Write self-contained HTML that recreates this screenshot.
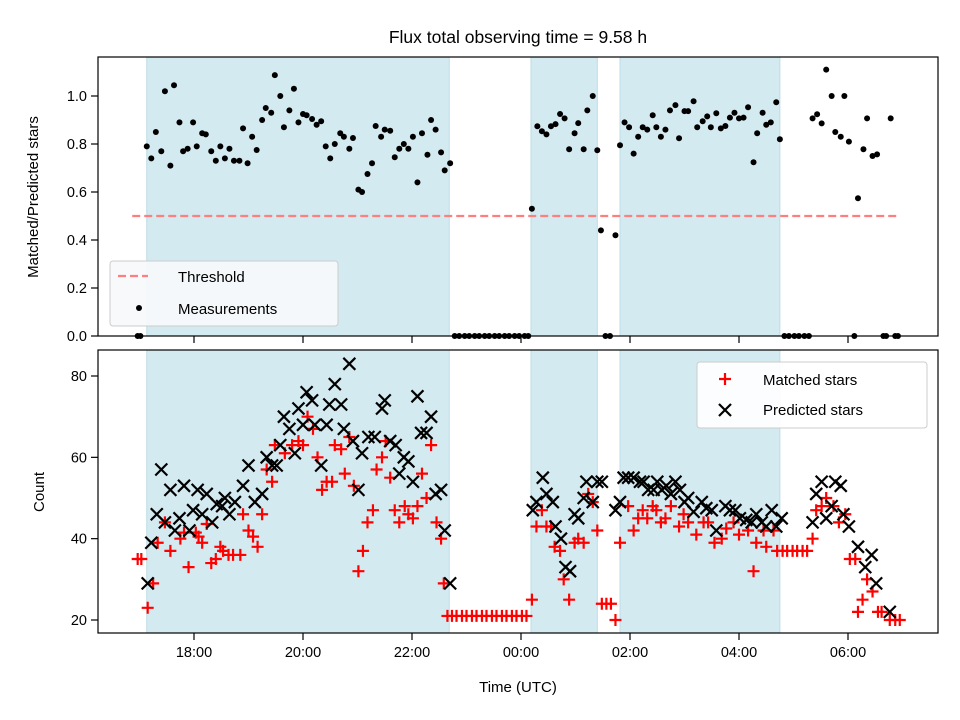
<!DOCTYPE html>
<html><head><meta charset="utf-8"><style>
body{margin:0;background:#fff}
svg{display:block;font-family:"Liberation Sans","DejaVu Sans",sans-serif}
</style></head><body>
<svg id="chart" width="960" height="720" viewBox="0 0 960 720" xmlns="http://www.w3.org/2000/svg">
<text x="518" y="43" font-size="17.5" text-anchor="middle">Flux total observing time = 9.58 h</text>
<g id="topG"></g><g id="botG"></g>
</svg>
<script>
// time in minutes since 17:00 UTC
const shadeStart=[8,431,529];
const shadeEnd=[341,504,705];
const threshold=0.5;
const ratioT=[-2,1,8,13,18,24,28,34,38,44,48,53,59,63,69,73,79,84,89,94,99,104,110,114,119,124,129,135,139,145,149,155,159,165,170,175,180,184,190,195,200,205,210,215,221,225,231,235,241,245,251,256,260,266,270,276,281,286,291,296,301,306,311,317,321,326,332,336,342,
347,352,358,363,369,374,380,385,391,396,402,407,413,418,424,428,
432,438,443,448,453,458,463,468,473,479,483,489,493,499,504,508,513,518,524,
529,534,539,544,549,554,559,565,569,574,579,584,590,594,600,604,610,614,620,625,629,635,640,645,650,655,660,665,670,676,680,686,690,695,701,705,
710,715,721,726,732,737,741,746,751,756,762,766,772,776,781,787,791,797,801,807,812,819,822,827,832,835];
const ratioV=[0,0,0.79,0.74,0.85,0.77,1.02,0.71,1.045,0.89,0.77,0.78,0.89,0.79,0.845,0.84,0.77,0.73,0.79,0.74,0.78,0.73,0.73,0.865,0.72,0.83,0.775,0.90,0.95,0.93,1.087,1.0,0.87,0.94,1.03,0.89,0.925,0.92,0.904,0.88,0.895,0.79,0.74,0.80,0.845,0.83,0.78,0.825,0.61,0.60,0.675,0.72,0.875,0.83,0.86,0.855,0.745,0.78,0.80,0.78,0.83,0.64,0.845,0.755,0.90,0.86,0.765,0.69,0.72,
0,0,0,0,0,0,0,0,0,0,0,0,0,0,0,0,
0.53,0.874,0.853,0.84,0.874,0.883,0.925,0.907,0.778,0.845,0.887,0.778,0.94,1.0,0.774,0.44,0,0,0.42,
0.795,0.89,0.87,0.76,0.83,0.87,0.86,0.92,0.87,0.83,0.86,0.94,0.962,0.824,0.937,0.937,0.978,0.87,0.895,0.915,0.87,0.928,0.865,0.875,0.91,0.93,0.907,0.91,0.953,0.724,0.845,0.93,0.88,0.89,0.974,0.82,
0,0,0,0,0,0,0.907,0.924,0.886,1.11,1.0,0.85,0.83,1.0,0.81,0,0.574,0.778,0.907,0.75,0.757,0,0,0.907,0,0];
const matchT=[-2,2,9,15,20,28,34,45,49,54,62,65,69,74,79,84,89,92,98,103,111,114,120,125,130,135,140,146,149,160,168,175,180,185,191,196,201,206,212,215,222,226,231,236,241,246,251,257,261,267,271,276,281,286,292,296,301,306,311,316,321,327,332,335,
339,344,349,355,360,366,371,377,382,388,393,399,404,410,415,421,426,
432,437,443,448,453,457,463,467,473,479,483,489,494,499,504,509,514,519,524,
529,538,544,549,554,559,565,569,574,579,585,594,599,604,613,621,626,633,641,646,654,660,670,676,679,687,690,698,
702,708,713,719,724,730,735,741,745,751,756,764,770,777,782,788,791,796,801,807,813,817,826,832,837];
const matchV=[35,35,23,29,39,44,37,40,41.5,33,41.5,40.5,39,43.6,34,35,38,37,36,36,36,46,42,40.5,38,46,57,54,63,61,63,64,63,70,67,60,52,54,54,63,62,56,65,53,32,37,44,47,57,60,64,55,47,44,48,46,45,48,56,50,63,44,40,29,
21,21,21,21,21,21,21,21,21,21,21,21,21,21,21,21,21,
25,43,47,43,43,38,37,30,25,39,40,39,51,49,42,24,24,24,20,
39,48,42,45,47,45,48,47,44,45,48,43,46,44,41,44,44,39,40,42.5,44,41,42,32,39,42,38,42,
37,37,37,37,37,37,37,40,47,48,50,48,44,46,35,35,22,25,30,27,22,22,20,20,20];
const predT=[9,13,19,24,28,34,39,44,49,55,59,64,69,74,80,85,91,94,99,105,114,120,127,135,140,146,151,155,159,165,171,175,180,184,190,193,200,206,209,215,222,225,231,235,241,245,252,259,267,270,276,282,286,291,296,301,306,310,316,321,326,332,336,342,
433,437,444,448,455,458,464,469,474,479,483,489,492,499,504,509,524,
529,533,538,544,551,555,560,566,570,575,580,585,590,595,600,604,610,619,624,630,635,645,650,656,661,668,674,679,685,690,696,701,707,
741,745,751,756,762,766,772,775,781,791,799,806,811,826];
const predV=[29,39,46,57,44,52,42,45,53,42,47,52,46,51,44,48.5,48,50,46,49,53,58,49,51,60,58,58,63,70,67,61,72,68,76,74,68,58,68,73,78,73,67,83,64,52,61,65,65,72,74,64,63,56,60,59,54,75,66,66,70,51,52,42,29,
47,49,55,51,49,43,40,33,32,46,45,50,54,49,54,54,47,
49,55,55,55,54,54,52,52,54,52,53,51,54,52,49,50,46.6,49,47.5,47,42,48,47,47,45,44.6,44,46,44,43,47,43,45,
44,51,54,45,48,54,53,46,43,38,33,36,29,22];
const xTickT=[60,180,300,420,540,660,780];
const xTickL=["18:00","20:00","22:00","00:00","02:00","04:00","06:00"];
const topTicks=[0,0.2,0.4,0.6,0.8,1.0];
const botTicks=[20,40,60,80];

const NS="http://www.w3.org/2000/svg";
const L=98,R=938,T1=57,B1=336,T2=350,B2=633;
const xs=t=>194+(t-60)/60*54.5;
const yTop=v=>336-v*240;
const yBot=v=>620-(v-20)*(244/60);
function mk(p,tag,at){const e=document.createElementNS(NS,tag);for(const k in at)e.setAttribute(k,at[k]);p.appendChild(e);return e;}
const topG=document.getElementById('topG'),botG=document.getElementById('botG');

[[topG,T1,B1],[botG,T2,B2]].forEach(([g,T,B],pi)=>{
  for(let i=0;i<shadeStart.length;i++){
    const r=mk(g,'rect',{x:xs(shadeStart[i]),y:T,width:xs(shadeEnd[i])-xs(shadeStart[i]),height:B-T,fill:'#d4eaf1',stroke:'#bcdce6','stroke-width':1});
    
    
  }
});

const th=mk(topG,'line',{x1:xs(-8),x2:xs(837),y1:yTop(threshold),y2:yTop(threshold),stroke:'#ff7f7f','stroke-width':2.2,'stroke-dasharray':'8,4'});



ratioT.forEach((t,i)=>{
  const c=mk(topG,'circle',{cx:xs(t),cy:yTop(ratioV[i]),r:3,fill:'#000'});
  
  
});
function plus(g,x,y,col){return mk(g,'path',{d:`M${x-6},${y}H${x+6}M${x},${y-6}V${y+6}`,stroke:col,'stroke-width':2.2,fill:'none'});}
function cross(g,x,y,col){return mk(g,'path',{d:`M${x-6},${y-6}L${x+6},${y+6}M${x-6},${y+6}L${x+6},${y-6}`,stroke:col,'stroke-width':2.2,fill:'none'});}
matchT.forEach((t,i)=>{
  const p=plus(botG,xs(t),yBot(matchV[i]),'#ff0000');
  
  
});
predT.forEach((t,i)=>{
  const p=cross(botG,xs(t),yBot(predV[i]),'#000');
  
  
});

[[topG,T1,B1],[botG,T2,B2]].forEach(([g,T,B],pi)=>{
  const f=mk(g,'rect',{x:L,y:T,width:R-L,height:B-T,fill:'none',stroke:'#000','stroke-width':1.2});
  
  
  xTickT.forEach((t,i)=>{
    const tk=mk(g,'line',{x1:xs(t),x2:xs(t),y1:B,y2:B+7,stroke:'#000','stroke-width':1.2});
    
    
    if(pi){const tx=mk(g,'text',{x:xs(t),y:B+24,'font-size':14.5,'text-anchor':'middle'});tx.textContent=xTickL[i];
      
      }
  });
  const ticks=pi?botTicks:topTicks, ys=pi?yBot:yTop;
  ticks.forEach(v=>{
    const tk=mk(g,'line',{x1:L-7,x2:L,y1:ys(v),y2:ys(v),stroke:'#000','stroke-width':1.2});
    
    
    const tx=mk(g,'text',{x:L-11,y:ys(v)+5,'font-size':14.5,'text-anchor':'end'});tx.textContent=pi?v:v.toFixed(1);
    
    
  });
});
let tt;
tt=mk(topG,'text',{x:0,y:0,'font-size':15,'text-anchor':'middle',transform:'translate(38,197) rotate(-90)'});tt.textContent='Matched/Predicted stars';


tt=mk(botG,'text',{x:0,y:0,'font-size':15,'text-anchor':'middle',transform:'translate(44,492) rotate(-90)'});tt.textContent='Count';


tt=mk(botG,'text',{x:518,y:692,'font-size':15,'text-anchor':'middle'});tt.textContent='Time (UTC)';



let lg=mk(topG,'g',{});


mk(lg,'rect',{x:110,y:261,width:228,height:65,rx:3,fill:'#f6f9fb','fill-opacity':0.92,stroke:'#cccccc'});
mk(lg,'line',{x1:118,x2:148,y1:276,y2:276,stroke:'#ff7f7f','stroke-width':2.2,'stroke-dasharray':'8,4'});
mk(lg,'circle',{cx:139,cy:308,r:3,fill:'#000'});
tt=mk(lg,'text',{x:178,y:282,'font-size':15});tt.textContent='Threshold';
tt=mk(lg,'text',{x:178,y:314,'font-size':15});tt.textContent='Measurements';
lg=mk(botG,'g',{});


mk(lg,'rect',{x:697,y:362,width:230,height:66,rx:3,fill:'#fff','fill-opacity':0.9,stroke:'#cccccc'});
plus(lg,725,379,'#ff0000');cross(lg,725,410,'#000');
tt=mk(lg,'text',{x:763,y:385,'font-size':15});tt.textContent='Matched stars';
tt=mk(lg,'text',{x:763,y:415,'font-size':15});tt.textContent='Predicted stars';
</script>
</body></html>
